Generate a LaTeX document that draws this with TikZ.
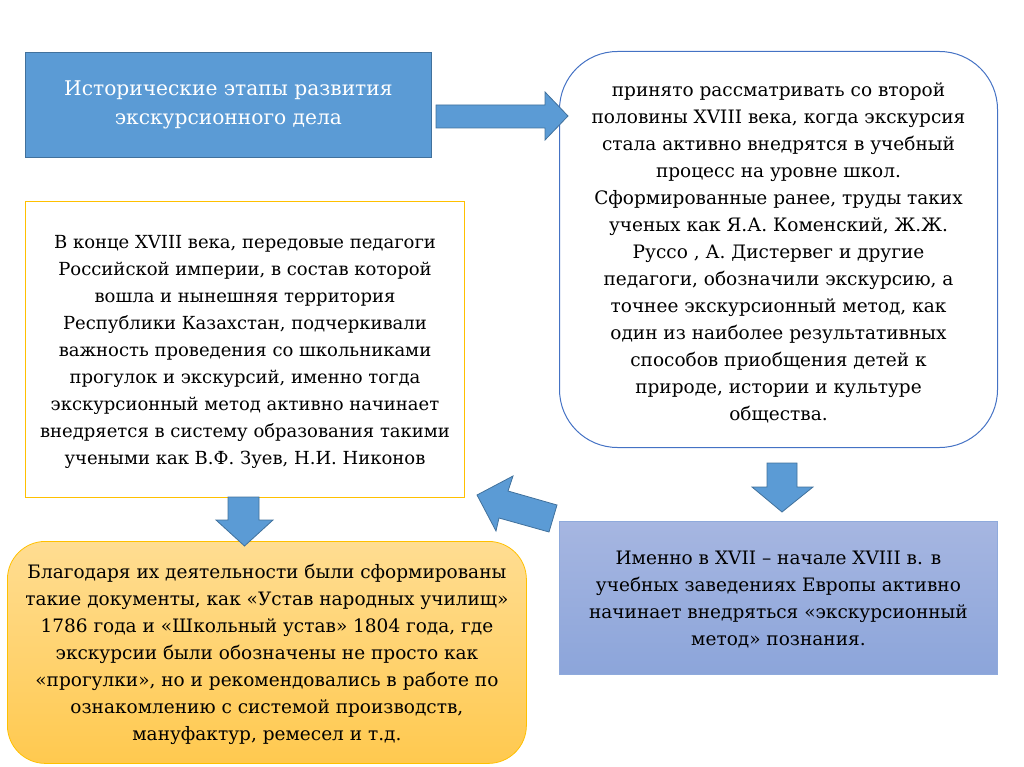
\documentclass[tikz,border=0pt]{standalone}
\usepackage{fontspec}
\setmainfont{DejaVu Serif}
\newfontfamily\timesf{DejaVu Serif}
\definecolor{arrowblue}{HTML}{5B9BD5}
\definecolor{arrowedge}{HTML}{41719C}
\definecolor{roundedge}{HTML}{4472C4}
\definecolor{goldedge}{HTML}{FFC000}
\definecolor{lavtop}{HTML}{A6B6E1}
\definecolor{lavbot}{HTML}{8CA5DA}
\definecolor{lavedge}{HTML}{8FAADC}
\definecolor{yeltop}{HTML}{FFDD92}
\definecolor{yelbot}{HTML}{FFC94F}
\begin{document}
\begin{tikzpicture}[x=1pt,y=-1pt,
  txt/.style={font=\timesf\fontsize{18.5}{27}\selectfont, align=center, text=black, inner sep=0pt},
  panel/.style={anchor=north west, inner sep=0pt},
  blockarrow/.style={fill=arrowblue, draw=arrowedge, line width=0.8pt, line join=miter}]
\useasboundingbox (0,0) rectangle (1024,767);
% boxes
\node[panel, fill=arrowblue, draw=arrowedge, line width=0.8pt, minimum width=406pt, minimum height=105pt] (title) at (25,52) {};
\node[txt, text=white, font=\timesf\fontsize{20.2}{29}\selectfont] (titletxt) at (title.center) {Исторические этапы развития\\экскурсионного дела};

\node[panel, draw=roundedge, line width=1pt, rounded corners=58pt, minimum width=438pt, minimum height=396pt] (right) at (559,51) {};
\node[txt] (righttxt) at ([yshift=-3pt]right.center) {принято рассматривать со второй\\половины XVIII века, когда экскурсия\\стала активно внедрятся в учебный\\процесс на уровне школ.\\Сформированные ранее, труды таких\\ученых как Я.А. Коменский, Ж.Ж.\\Руссо , А. Дистервег и другие\\педагоги, обозначили экскурсию, а\\точнее экскурсионный метод, как\\один из наиболее результативных\\способов приобщения детей к\\природе, истории и культуре\\общества.};

\node[panel, draw=goldedge, line width=1pt, minimum width=439pt, minimum height=296pt] (left) at (25,201) {};
\node[txt, font=\timesf\fontsize{18}{27}\selectfont] (lefttxt) at ([yshift=-2pt]left.center) {В конце XVIII века, передовые педагоги\\Российской империи, в состав которой\\вошла и нынешняя территория\\Республики Казахстан, подчеркивали\\важность проведения со школьниками\\прогулок и экскурсий, именно тогда\\экскурсионный метод активно начинает\\внедряется в систему образования такими\\учеными как В.Ф. Зуев, Н.И. Никонов};

\node[panel, top color=lavtop, bottom color=lavbot, draw=lavedge, line width=0.8pt, minimum width=438pt, minimum height=153pt] (europe) at (559,521) {};
\node[txt] (europetxt) at ([yshift=-2pt]europe.center) {Именно в XVII – начале XVIII в. в\\учебных заведениях Европы активно\\начинает внедряться «экскурсионный\\метод» познания.};

\node[panel, top color=yeltop, bottom color=yelbot, draw=goldedge, line width=0.8pt, rounded corners=38pt, minimum width=519pt, minimum height=222pt] (docs) at (7,541) {};
\node[txt] (docstxt) at ([yshift=-2pt]docs.center) {Благодаря их деятельности были сформированы\\такие документы, как «Устав народных училищ»\\1786 года и «Школьный устав» 1804 года, где\\экскурсии были обозначены не просто как\\«прогулки», но и рекомендовались в работе по\\ознакомлению с системой производств,\\мануфактур, ремесел и т.д.};

% block arrows
\draw[blockarrow] (436,105) -- (545,105) -- (545,92) -- (568,116) -- (545,140) -- (545,128) -- (436,128) -- cycle;
\draw[blockarrow] (767,463) -- (797,463) -- (797,487) -- (813,487) -- (782,512) -- (752,487) -- (767,487) -- cycle;
\draw[blockarrow] (228,497) -- (259,497) -- (259,520) -- (273,520) -- (244.5,546) -- (216,520) -- (228,520) -- cycle;
\draw[blockarrow] (557,505) -- (508,491) -- (513,476) -- (477,495) -- (496,531) -- (499,518) -- (549,532) -- cycle;
\end{tikzpicture}
\end{document}
